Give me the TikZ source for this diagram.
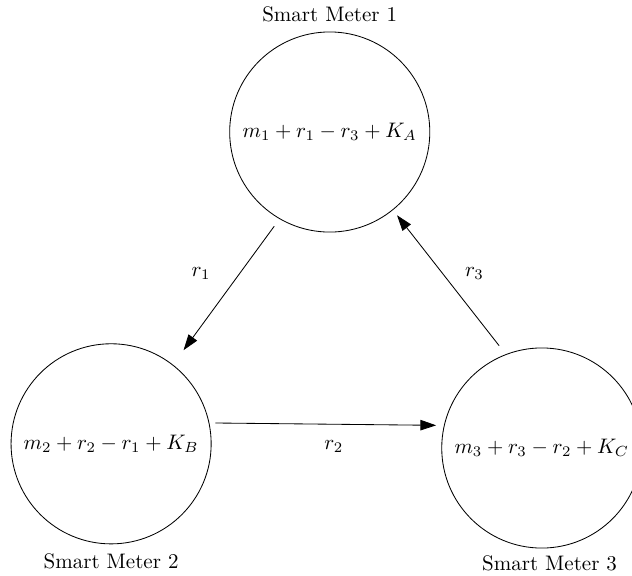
\documentclass[tikz,border=0pt]{standalone}
\usepackage{amsmath,amssymb}
\usepackage{tikz}
\usetikzlibrary{arrows.meta,positioning}

\begin{document}
\begin{tikzpicture}[
    meter/.style={draw, circle, minimum size=3.35cm, inner sep=0pt},
    arr/.style={-{Triangle[length=7.5pt, width=5pt]}}
]
\useasboundingbox (0,0) rectangle (10.58,9.64);
\node[meter] (sm1) at (5.52,7.43) {$m_1 + r_1 - r_3 + K_A$};
\node[meter] (sm2) at (1.86,2.21) {$m_2 + r_2 - r_1 + K_B$};
\node[meter] (sm3) at (9.07,2.14) {$m_3 + r_3 - r_2 + K_C$};
\node[above=1pt of sm1] (name1) {Smart Meter 1};
\node[below=1pt of sm2] (name2) {Smart Meter 2};
\node[below=0pt of sm3, xshift=0.13cm] (name3) {Smart Meter 3};
\draw[arr, shorten <=0.15cm, shorten >=0.3cm] (sm1.240) -- node[xshift=-0.42cm, yshift=0.31cm] {$r_1$} (sm2.52);
\draw[arr, shorten <=0.1cm, shorten >=0.13cm] (sm2.12) -- node[xshift=0.12cm, yshift=-0.38cm] {$r_2$} (sm3.167);
\draw[arr, shorten <=0.18cm, shorten >=0.11cm] (sm3.111) -- node[xshift=0.42cm, yshift=0.14cm] {$r_3$} (sm1.309);
\end{tikzpicture}
\end{document}
